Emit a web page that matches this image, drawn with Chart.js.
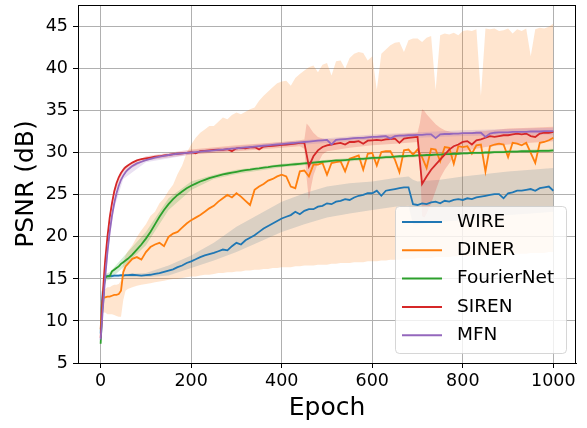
<!DOCTYPE html>
<html>
<head>
<meta charset="utf-8">
<script src="https://cdn.jsdelivr.net/npm/chart.js@4.4.1/dist/chart.umd.min.js"></script>
<style>
  html, body { margin: 0; padding: 0; background: #fff; }
  #wrap { width: 587px; height: 428px; }
</style>
</head>
<body>
<div id="wrap"><canvas id="psnr" width="587" height="428"></canvas></div>
<script>
// epochs shared by the five curves
const epochs = [
  0, 2, 4, 6, 8, 10, 15, 20, 25, 30, 35, 40, 45, 50, 55, 60,
  70, 80, 90, 100, 110, 120, 130, 140, 150, 160,
  170, 180, 190, 200, 210, 220, 230, 240, 250, 260,
  270, 280, 290, 300, 310, 320, 330, 340, 350, 360,
  370, 380, 390, 400, 410, 420, 430, 440, 450, 460,
  470, 480, 490, 500, 510, 520, 530, 540, 550, 560,
  570, 580, 590, 600, 610, 620, 630, 640, 650, 660,
  670, 680, 690, 700, 710, 720, 730, 740, 750, 760,
  770, 780, 790, 800, 810, 820, 830, 840, 850, 860,
  870, 880, 890, 900, 910, 920, 930, 940, 950, 960,
  970, 980, 990, 1000
]

const wire = [
  8.5, 11.5, 13.0, 12.6, 14.5, 15.3, 15.35, 15.4, 15.35, 15.4, 15.4, 15.4, 15.45, 15.4, 15.45, 15.45,
  15.5, 15.45, 15.4, 15.45, 15.5, 15.6, 15.7, 15.85, 16.0, 16.15,
  16.4, 16.6, 16.9, 17.1, 17.35, 17.6, 17.8, 17.95, 18.1, 18.3,
  18.5, 18.4, 18.9, 19.3, 19.1, 19.6, 19.9, 20.2, 20.6, 21.0,
  21.3, 21.6, 21.9, 22.2, 22.4, 22.6, 23.0, 22.7, 23.1, 23.3,
  23.3, 23.6, 23.7, 24.0, 23.9, 24.2, 24.3, 24.5, 24.4, 24.7,
  24.9, 25.0, 25.2, 25.2, 25.5, 24.9, 25.5, 25.6, 25.7, 25.8,
  25.9, 25.9, 23.9, 23.8, 24.0, 23.9, 24.1, 24.2, 24.0, 24.3,
  24.2, 24.4, 24.5, 24.4, 24.6, 24.5, 24.7, 24.8, 24.9, 25.0,
  25.1, 25.1, 24.6, 25.2, 25.3, 25.5, 25.5, 25.6, 25.7, 25.5,
  25.8, 25.9, 26.0, 25.5
]

const diner = [
  9.0, 11.0, 12.3, 12.7, 12.8, 12.8, 12.9, 12.9, 13.0, 13.1, 13.1, 13.2, 13.6, 15.8, 16.5, 16.8,
  17.4, 17.6, 17.3, 18.2, 18.8, 19.1, 19.3, 18.9, 20.0, 20.4,
  20.6, 21.1, 21.6, 22.0, 22.3, 22.6, 23.0, 23.4, 23.7, 24.2,
  24.6, 25.0, 24.7, 25.2, 24.8, 24.3, 23.8, 25.6, 26.0, 26.3,
  26.7, 26.9, 27.2, 27.4, 27.2, 26.0, 25.8, 27.8, 27.9, 27.2,
  28.6, 28.6, 28.8, 27.4, 28.8, 28.9, 29.0, 27.8, 29.3, 29.5,
  29.7, 28.0, 29.9, 30.0, 28.5, 30.1, 30.2, 30.2, 29.2, 27.7,
  30.3, 30.4, 29.8, 30.4, 29.5, 28.2, 30.5, 30.4, 29.0, 30.7,
  30.6, 28.7, 30.8, 30.7, 30.8, 29.9, 30.9, 31.0, 27.8, 30.8,
  31.0, 31.1, 31.0, 29.5, 31.2, 31.1, 30.9, 31.2, 30.0, 28.8,
  31.2, 31.3, 31.5, 31.8
]

const fourier = [
  7.3, 9.5, 11.8, 13.5, 14.6, 15.2, 15.3, 15.3, 15.9, 16.1, 16.3, 16.5, 16.8, 17.0, 17.2, 17.4,
  17.9, 18.5, 19.1, 19.8, 20.6, 21.5, 22.4, 23.2, 23.9, 24.5,
  25.0, 25.4, 25.8, 26.1, 26.35, 26.6, 26.8, 27.0, 27.15, 27.3,
  27.45, 27.55, 27.65, 27.75, 27.85, 27.95, 28.0, 28.1, 28.15, 28.25,
  28.3, 28.4, 28.45, 28.5, 28.55, 28.6, 28.65, 28.7, 28.75, 28.8,
  28.85, 28.9, 28.95, 29.0, 29.05, 29.1, 29.1, 29.15, 29.2, 29.25,
  29.3, 29.3, 29.35, 29.4, 29.4, 29.45, 29.5, 29.5, 29.55, 29.6,
  29.6, 29.65, 29.65, 29.7, 29.7, 29.75, 29.75, 29.8, 29.8, 29.85,
  29.85, 29.9, 29.9, 29.95, 29.95, 30.0, 30.0, 30.0, 30.05, 30.05,
  30.1, 30.1, 30.1, 30.15, 30.15, 30.15, 30.2, 30.2, 30.2, 30.2,
  30.25, 30.25, 30.25, 30.3
]

const siren = [
  8.0, 10.0, 12.2, 14.2, 15.8, 17.2, 20.0, 22.3, 24.0, 25.4, 26.4, 27.1, 27.6, 28.0, 28.3, 28.5,
  28.85, 29.1, 29.25, 29.35, 29.45, 29.55, 29.6, 29.7, 29.75, 29.85,
  29.9, 29.95, 30.0, 30.1, 29.95, 30.2, 30.25, 30.3, 30.35, 30.4,
  30.35, 30.45, 30.2, 30.55, 30.6, 30.55, 30.65, 30.7, 30.4, 30.75,
  30.8, 30.85, 30.9, 30.95, 31.0, 31.05, 31.1, 31.2, 31.2, 28.4,
  29.6, 30.3, 30.7, 30.9, 31.0, 31.1, 31.2, 31.0, 31.3, 31.3,
  31.4, 31.1, 31.45, 31.5, 31.55, 31.5, 31.6, 31.65, 31.7, 31.2,
  31.7, 31.8, 31.85, 31.9, 26.3, 27.2, 28.0, 28.6, 29.2, 29.8,
  30.4, 30.8, 31.0, 31.3, 31.4, 31.0, 31.5, 31.6, 31.8, 32.0,
  31.9, 32.0, 32.1, 32.1, 32.2, 32.3, 32.2, 32.3, 32.0, 31.9,
  32.3, 32.4, 32.4, 32.5
]

const mfn = [
  7.8, 9.2, 10.8, 12.3, 13.8, 15.2, 18.2, 20.6, 22.5, 24.0, 25.2, 26.1, 26.8, 27.3, 27.7, 28.0,
  28.45, 28.75, 28.95, 29.15, 29.3, 29.45, 29.55, 29.65, 29.75, 29.82,
  29.9, 29.95, 30.0, 30.05, 30.1, 30.15, 30.2, 30.25, 30.3, 30.35,
  30.4, 30.45, 30.5, 30.55, 30.6, 30.65, 30.7, 30.75, 30.8, 30.85,
  30.9, 30.95, 31.0, 31.05, 31.1, 31.15, 31.2, 31.25, 31.3, 31.35,
  31.4, 31.45, 31.5, 31.55, 31.0, 31.55, 31.6, 31.65, 31.7, 31.75,
  31.8, 31.8, 31.85, 31.9, 31.9, 31.95, 32.0, 31.7, 32.0, 32.05,
  32.05, 32.1, 32.1, 32.15, 32.15, 32.2, 32.2, 31.75, 32.2, 32.25,
  32.25, 32.3, 32.3, 32.35, 32.35, 32.35, 32.4, 32.4, 31.9, 32.3,
  32.4, 32.45, 32.45, 32.45, 32.5, 32.5, 32.5, 32.5, 32.55, 32.55,
  32.55, 32.6, 32.6, 32.6
]

// shaded spread, DINER (same epochs as the curves)
const dinerHi = [
  9.5, 11.5, 12.8, 13.5, 13.6, 13.8, 14.0, 14.0, 14.2, 14.3, 14.3, 14.4, 14.8, 17.0, 17.8, 18.3,
  19.0, 20.0, 20.8, 21.5, 22.5, 23.0, 24.0, 24.6, 25.5, 26.2,
  27.5, 28.5, 30.0, 31.0, 31.8, 32.4, 32.8, 33.2, 33.2, 33.7,
  34.2, 34.0, 34.5, 34.8, 34.6, 34.9, 35.2, 35.4, 36.2, 36.8,
  37.3, 37.8, 38.3, 38.5, 38.6, 38.0, 38.9, 39.4, 39.8, 40.2,
  40.4, 39.6, 40.5, 40.7, 39.2, 40.9, 41.0, 40.0, 41.3, 41.8,
  42.0, 41.9, 41.0, 41.5, 37.5, 41.8, 42.3, 42.8, 43.1, 43.2,
  42.0, 43.4, 43.6, 43.6, 43.2, 43.7, 43.9, 37.5, 44.0, 44.2,
  44.1, 44.3, 44.0, 44.5, 44.6, 44.5, 44.7, 36.8, 44.8, 44.7,
  44.8, 44.5, 44.6, 44.8, 44.2, 44.7, 44.5, 44.8, 41.5, 44.7,
  44.9, 44.8, 45.0, 45.4
]
const dinerLo = [
  8.5, 10.0, 10.8, 11.0, 11.0, 11.0, 10.8, 10.8, 10.8, 10.7, 10.6, 10.5, 10.5, 12.5, 13.6, 13.8,
  14.0, 14.2, 14.3, 14.4, 14.5, 14.6, 14.7, 14.8, 14.9, 15.0,
  15.0, 15.1, 15.2, 15.3, 15.3, 15.4, 15.5, 15.5, 15.6, 15.7,
  15.7, 15.8, 15.8, 15.9, 15.9, 16.0, 16.0, 16.1, 16.1, 16.2,
  16.2, 16.3, 16.3, 16.4, 16.4, 16.4, 16.5, 16.5, 16.6, 16.6,
  16.6, 16.7, 16.7, 16.7, 16.8, 16.8, 16.9, 16.9, 16.9, 17.0,
  17.0, 17.0, 17.1, 17.1, 17.1, 17.2, 17.2, 17.3, 17.3, 17.3,
  17.4, 17.4, 17.4, 17.5, 17.5, 17.5, 17.5, 17.6, 17.6, 17.6,
  17.6, 17.7, 17.7, 17.7, 17.7, 17.8, 17.8, 17.8, 17.8, 17.9,
  17.9, 17.9, 17.9, 18.0, 18.0, 18.0, 18.0, 18.0, 18.1, 18.1,
  18.1, 18.1, 18.2, 18.2
]

// shaded spread, WIRE
const wireBandEpochs = [0, 10, 50, 100, 150, 200, 250, 300, 350, 400, 450, 500, 550, 600, 650, 680, 690, 700, 750, 800, 850, 900, 950, 1000]
const wireHi = [8.6, 15.5, 15.6, 15.7, 16.6, 17.8, 19.3, 21.2, 22.7, 24.2, 25.2, 26.0, 26.4, 26.6, 27.0, 27.2, 26.8, 26.6, 26.8, 27.2, 27.5, 27.8, 28.0, 28.2]
const wireLo = [8.4, 15.1, 15.2, 15.2, 15.4, 16.3, 17.2, 18.2, 19.4, 20.6, 21.5, 22.3, 22.8, 23.2, 23.6, 23.7, 21.5, 21.5, 21.8, 22.0, 22.3, 22.6, 22.8, 23.0]

// shaded spread, FourierNet
const fourierBandEpochs = [0, 10, 20, 50, 100, 150, 200, 250, 300, 400, 500, 600, 800, 1000]
const fourierHi = [7.5, 15.6, 15.8, 17.6, 20.6, 24.6, 26.6, 27.4, 28.0, 28.7, 29.2, 29.6, 30.1, 30.5]
const fourierLo = [7.1, 14.8, 14.9, 16.4, 19.0, 23.2, 25.6, 26.9, 27.5, 28.3, 28.8, 29.2, 29.8, 30.1]

// shaded spread, SIREN
const sirenBandEpochs = [0, 10, 20, 30, 50, 100, 200, 300, 400, 440, 450, 455, 460, 465, 470, 480, 490, 500, 550, 600, 650, 700, 705, 710, 715, 720, 730, 740, 750, 760, 780, 800, 850, 900, 950, 1000]
const sirenHi = [8.2, 17.6, 22.8, 25.8, 28.3, 29.6, 30.4, 30.9, 31.3, 31.5, 31.6, 33.5, 33.2, 32.8, 32.4, 31.9, 31.7, 31.6, 31.8, 32.0, 32.2, 32.4, 33.5, 35.2, 35.0, 34.6, 34.0, 33.4, 33.0, 32.7, 32.4, 32.4, 32.6, 32.9, 33.0, 33.1]
const sirenLo = [7.8, 16.8, 21.8, 25.0, 27.7, 29.1, 29.8, 30.2, 30.6, 30.8, 30.5, 27.0, 24.4, 26.0, 27.3, 28.8, 29.8, 30.2, 30.6, 30.9, 31.1, 31.3, 29.0, 22.5, 22.3, 22.8, 24.0, 25.5, 27.0, 28.0, 29.5, 30.2, 30.7, 31.0, 31.2, 31.4]

// shaded spread, MFN
const mfnBandEpochs = [0, 10, 20, 30, 50, 100, 200, 400, 600, 800, 1000]
const mfnHi = [8.0, 15.8, 21.3, 24.6, 27.7, 29.4, 30.3, 31.3, 32.2, 32.7, 33.0]
const mfnLo = [7.6, 14.6, 19.9, 23.4, 26.9, 28.9, 29.8, 30.8, 31.6, 32.0, 32.2]

const seriesNames = ['WIRE', 'DINER', 'FourierNet', 'SIREN', 'MFN']
const seriesColors = ['#1f77b4', '#ff7f0e', '#2ca02c', '#d62728', '#9467bd']
const xTicks = [0, 200, 400, 600, 800, 1000]
const yTicks = [5, 10, 15, 20, 25, 30, 35, 40, 45]

const pts = (xs, ys) => xs.map((x, i) => ({ x: x, y: ys[i] }))

const rgba = (hex, a) => {
  const n = parseInt(hex.slice(1), 16)
  return `rgba(${(n >> 16) & 255},${(n >> 8) & 255},${n & 255},${a})`
}

const curves = [wire, diner, fourier, siren, mfn]
const bands = [
  [wireBandEpochs, wireHi, wireLo],
  [epochs, dinerHi, dinerLo],
  [fourierBandEpochs, fourierHi, fourierLo],
  [sirenBandEpochs, sirenHi, sirenLo],
  [mfnBandEpochs, mfnHi, mfnLo],
]

const datasets = []
bands.forEach(([xs, hi, lo], i) => {
  const common = { borderWidth: 0, borderColor: 'transparent', pointRadius: 0, order: 20 - i }
  datasets.push({ ...common, data: pts(xs, hi), fill: '+1', backgroundColor: rgba(seriesColors[i], 0.2) })
  datasets.push({ ...common, data: pts(xs, lo), fill: false })
})
curves.forEach((vals, i) => {
  datasets.push({
    label: seriesNames[i],
    data: pts(epochs, vals),
    borderColor: seriesColors[i],
    borderWidth: 1.8,
    pointRadius: 0,
    fill: false,
    order: 10 - i,
  })
})

// top and right spines
const frame = {
  id: 'frame',
  afterDatasetsDraw(chart) {
    const { ctx, chartArea: a } = chart
    ctx.save()
    ctx.strokeStyle = '#000'
    ctx.lineWidth = 1
    ctx.strokeRect(a.left + 0.5, a.top + 0.5, a.right - a.left - 1, a.bottom - a.top)
    ctx.restore()
  },
}

// matplotlib-like legend in the lower right of the axes
const boxLegend = {
  id: 'boxLegend',
  afterDraw(chart) {
    const ctx = chart.ctx
    const x = 395, y = 206, w = 171, h = 147
    ctx.save()
    ctx.beginPath()
    ctx.roundRect(x + 0.5, y + 0.5, w, h, 4)
    ctx.fillStyle = 'rgba(255,255,255,0.8)'
    ctx.fill()
    ctx.strokeStyle = 'rgba(204,204,204,0.8)'
    ctx.lineWidth = 1
    ctx.stroke()
    ctx.font = '18.5px "DejaVu Sans"'
    ctx.textBaseline = 'middle'
    ctx.fillStyle = '#000'
    seriesNames.forEach((name, i) => {
      const cy = 222 + i * 28.3
      ctx.strokeStyle = seriesColors[i]
      ctx.lineWidth = 2
      ctx.beginPath()
      ctx.moveTo(402, cy)
      ctx.lineTo(442, cy)
      ctx.stroke()
      ctx.fillText(name, 457, cy)
    })
    ctx.restore()
  },
}

// keep the plot box fixed, whatever the tick labels measure
const fixBox = (size) => (s) => {
  if (s.isHorizontal()) s.height = size
  else s.width = size
  s.paddingTop = 0
  s.paddingBottom = 0
  s.paddingLeft = 0
  s.paddingRight = 0
}

Chart.defaults.font.family = "'DejaVu Sans', sans-serif"
Chart.defaults.color = '#000'

new Chart(document.getElementById('psnr'), {
  type: 'line',
  data: { datasets },
  options: {
    responsive: false,
    animation: false,
    events: [],
    layout: { padding: { top: 5, right: 11, left: 0, bottom: 0 } },
    plugins: { legend: { display: false }, tooltip: { enabled: false } },
    scales: {
      x: {
        type: 'linear',
        min: -50,
        max: 1050,
        afterBuildTicks: (s) => { s.ticks = xTicks.map((v) => ({ value: v })) },
        afterFit: fixBox(65),
        grid: { color: '#b0b0b0', lineWidth: 1, tickColor: '#000', tickLength: 5, tickWidth: 1 },
        border: { color: '#000', width: 1 },
        ticks: { font: { size: 17.5 }, color: '#000', padding: 3, maxRotation: 0, autoSkip: false, callback: (v) => String(v) },
        title: { display: true, text: 'Epoch', color: '#000', font: { size: 25, lineHeight: 1 }, padding: { top: 0, bottom: 7 } },
      },
      y: {
        type: 'linear',
        min: 5,
        max: 47.6,
        afterBuildTicks: (s) => { s.ticks = yTicks.map((v) => ({ value: v })) },
        afterFit: fixBox(78),
        grid: { color: '#b0b0b0', lineWidth: 1, tickColor: '#000', tickLength: 5, tickWidth: 1 },
        border: { color: '#000', width: 1 },
        ticks: { font: { size: 17.5 }, color: '#000', padding: 5, autoSkip: false, callback: (v) => String(v) },
        title: { display: true, text: 'PSNR (dB)', color: '#000', font: { size: 25, lineHeight: 1 }, padding: { top: 13.5, bottom: 0 } },
      },
    },
  },
  plugins: [frame, boxLegend],
})
</script>
</body>
</html>
